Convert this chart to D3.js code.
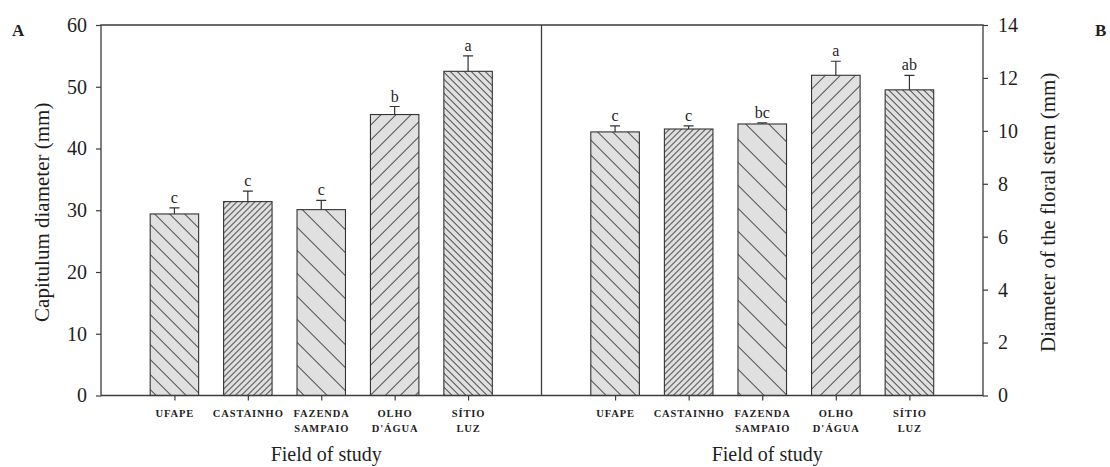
<!DOCTYPE html>
<html>
<head>
<meta charset="utf-8">
<script src="https://cdn.jsdelivr.net/npm/d3@7/dist/d3.min.js"></script>
<style>
  html, body { margin: 0; padding: 0; background: #fff; }
  svg { display: block; }
  text { font-family: "Liberation Serif", "Times New Roman", serif; fill: #1e1e1e; }
</style>
</head>
<body>
<svg id="chart" width="1110" height="467"></svg>
<script>
// Study sites (x-axis categories), split into display lines
const sites = ["UFAPE", "CASTAINHO", "FAZENDA SAMPAIO", "OLHO D'ÁGUA", "SÍTIO LUZ"];
const siteLines = [["UFAPE"], ["CASTAINHO"], ["FAZENDA", "SAMPAIO"], ["OLHO", "D'ÁGUA"], ["SÍTIO", "LUZ"]];

// Panel A: capitulum diameter (mm), mean and standard error
const capitulumMean = [29.4, 31.4, 30.1, 45.5, 52.5];
const capitulumErr = [1.0, 1.7, 1.5, 1.3, 2.5];
const capitulumGroups = ["c", "c", "c", "b", "a"];
const capitulumTicks = [0, 10, 20, 30, 40, 50, 60];

// Panel B: diameter of the floral stem (mm), mean and standard error
const stemMean = [9.96, 10.07, 10.26, 12.1, 11.55];
const stemErr = [0.23, 0.12, 0.04, 0.53, 0.55];
const stemGroups = ["c", "c", "bc", "a", "ab"];
const stemTicks = [0, 2, 4, 6, 8, 10, 12, 14];

// Hatch fill per site: direction and horizontal repeat (px)
const hatchDir = ["back", "fwd", "back", "fwd", "back"];
const hatchGap = [15, 6, 23, 15, 7];

const svg = d3.select("#chart");
const frameColor = "#3c3c3c";
const plotTop = 25, plotBottom = 395.5;
const leftX = 101, midX = 541.5, rightX = 983;

// Hatch patterns
const defs = svg.append("defs");
sites.forEach((s, i) => {
  const w = hatchGap[i] / Math.SQRT2;
  const p = defs.append("pattern")
    .attr("id", "hatch" + i)
    .attr("patternUnits", "userSpaceOnUse")
    .attr("width", w).attr("height", 10)
    .attr("patternTransform", `rotate(${hatchDir[i] === "fwd" ? 45 : -45})`);
  p.append("rect").attr("width", w).attr("height", 10).attr("fill", "#e0e0e0");
  p.append("line").attr("x1", 0.5).attr("x2", 0.5).attr("y1", 0).attr("y2", 10)
    .attr("stroke", "#4a4a4a").attr("stroke-width", 1);
});

function panel(x0, x1, means, errs, groups, ticks, side, label) {
  const x = d3.scalePoint().domain(sites).range([x0, x1]).padding(1);
  const y = d3.scaleLinear().domain([0, d3.max(ticks)]).range([plotBottom, plotTop]);
  const bw = x.step() * 0.66;
  const g = svg.append("g");

  // Bars
  g.selectAll("rect.bar").data(sites).join("rect")
    .attr("class", "bar")
    .attr("x", d => x(d) - bw / 2)
    .attr("y", (d, i) => y(means[i]))
    .attr("width", bw)
    .attr("height", (d, i) => plotBottom - y(means[i]))
    .attr("fill", (d, i) => `url(#hatch${i})`)
    .attr("stroke", "#333").attr("stroke-width", 1.1);

  // Upper error bars
  g.selectAll("path.err").data(sites).join("path")
    .attr("class", "err")
    .attr("d", (d, i) => {
      const cx = x(d), yt = y(means[i] + errs[i]), yb = y(means[i]);
      return `M${cx},${yb}V${yt}M${cx - 5},${yt}H${cx + 5}`;
    })
    .attr("stroke", "#333").attr("stroke-width", 1.2).attr("fill", "none");

  // Group letters
  g.selectAll("text.grp").data(sites).join("text")
    .attr("class", "grp")
    .attr("x", d => x(d))
    .attr("y", (d, i) => y(means[i] + errs[i]) - 5)
    .attr("text-anchor", "middle")
    .attr("font-size", 16)
    .text((d, i) => groups[i]);

  // Category ticks and labels
  const xa = g.append("g").attr("transform", `translate(0,${plotBottom})`)
    .call(d3.axisBottom(x).tickSize(5).tickSizeOuter(0).tickFormat(""));
  xa.select(".domain").remove();
  xa.selectAll("line").attr("stroke", frameColor).attr("stroke-width", 1.2);
  sites.forEach((s, i) => {
    const t = g.append("text")
      .attr("x", x(s)).attr("y", 417)
      .attr("text-anchor", "middle")
      .attr("font-size", 10.5).attr("font-weight", "bold")
      .attr("letter-spacing", 0.9);
    siteLines[i].forEach((ln, k) => {
      t.append("tspan").attr("x", x(s) + 0.45).attr("dy", k === 0 ? 0 : 14.5).text(ln);
    });
  });

  g.append("text")
    .attr("x", (x0 + x1) / 2 + 5).attr("y", 461)
    .attr("text-anchor", "middle").attr("font-size", 20)
    .text("Field of study");

  // Value axis
  const axis = side === "left" ? d3.axisLeft(y) : d3.axisRight(y);
  const ya = g.append("g").attr("transform", `translate(${side === "left" ? x0 : x1},0)`)
    .call(axis.tickValues(ticks).tickSize(5).tickSizeOuter(0).tickPadding(side === "left" ? 9 : 10));
  ya.select(".domain").remove();
  ya.selectAll("line").attr("stroke", frameColor).attr("stroke-width", 1.2);
  ya.selectAll("text").attr("font-size", 20)
    .attr("font-family", "'Liberation Serif', 'Times New Roman', serif").attr("fill", "#1e1e1e");

  const lx = side === "left" ? 42 : 1048;
  g.append("text")
    .attr("transform", `translate(${lx},${(plotTop + plotBottom) / 2 + 2}) rotate(-90)`)
    .attr("text-anchor", "middle").attr("dominant-baseline", "central")
    .attr("font-size", 21)
    .text(label);
}

panel(leftX, midX, capitulumMean, capitulumErr, capitulumGroups, capitulumTicks, "left", "Capitulum diameter (mm)");
panel(midX, rightX, stemMean, stemErr, stemGroups, stemTicks, "right", "Diameter of the floral stem (mm)");

// Frame: outer axes, top border, baseline and panel divider
svg.append("path")
  .attr("d", `M${leftX},${plotBottom}V${plotTop}H${rightX}V${plotBottom}H${leftX}M${midX},${plotTop}V${plotBottom}`)
  .attr("fill", "none").attr("stroke", frameColor).attr("stroke-width", 1.3);

// Panel letters
svg.append("text").attr("x", 12).attr("y", 36).attr("font-size", 17).attr("font-weight", "bold").text("A");
svg.append("text").attr("x", 1095).attr("y", 36).attr("font-size", 17).attr("font-weight", "bold").text("B");
</script>
</body>
</html>
